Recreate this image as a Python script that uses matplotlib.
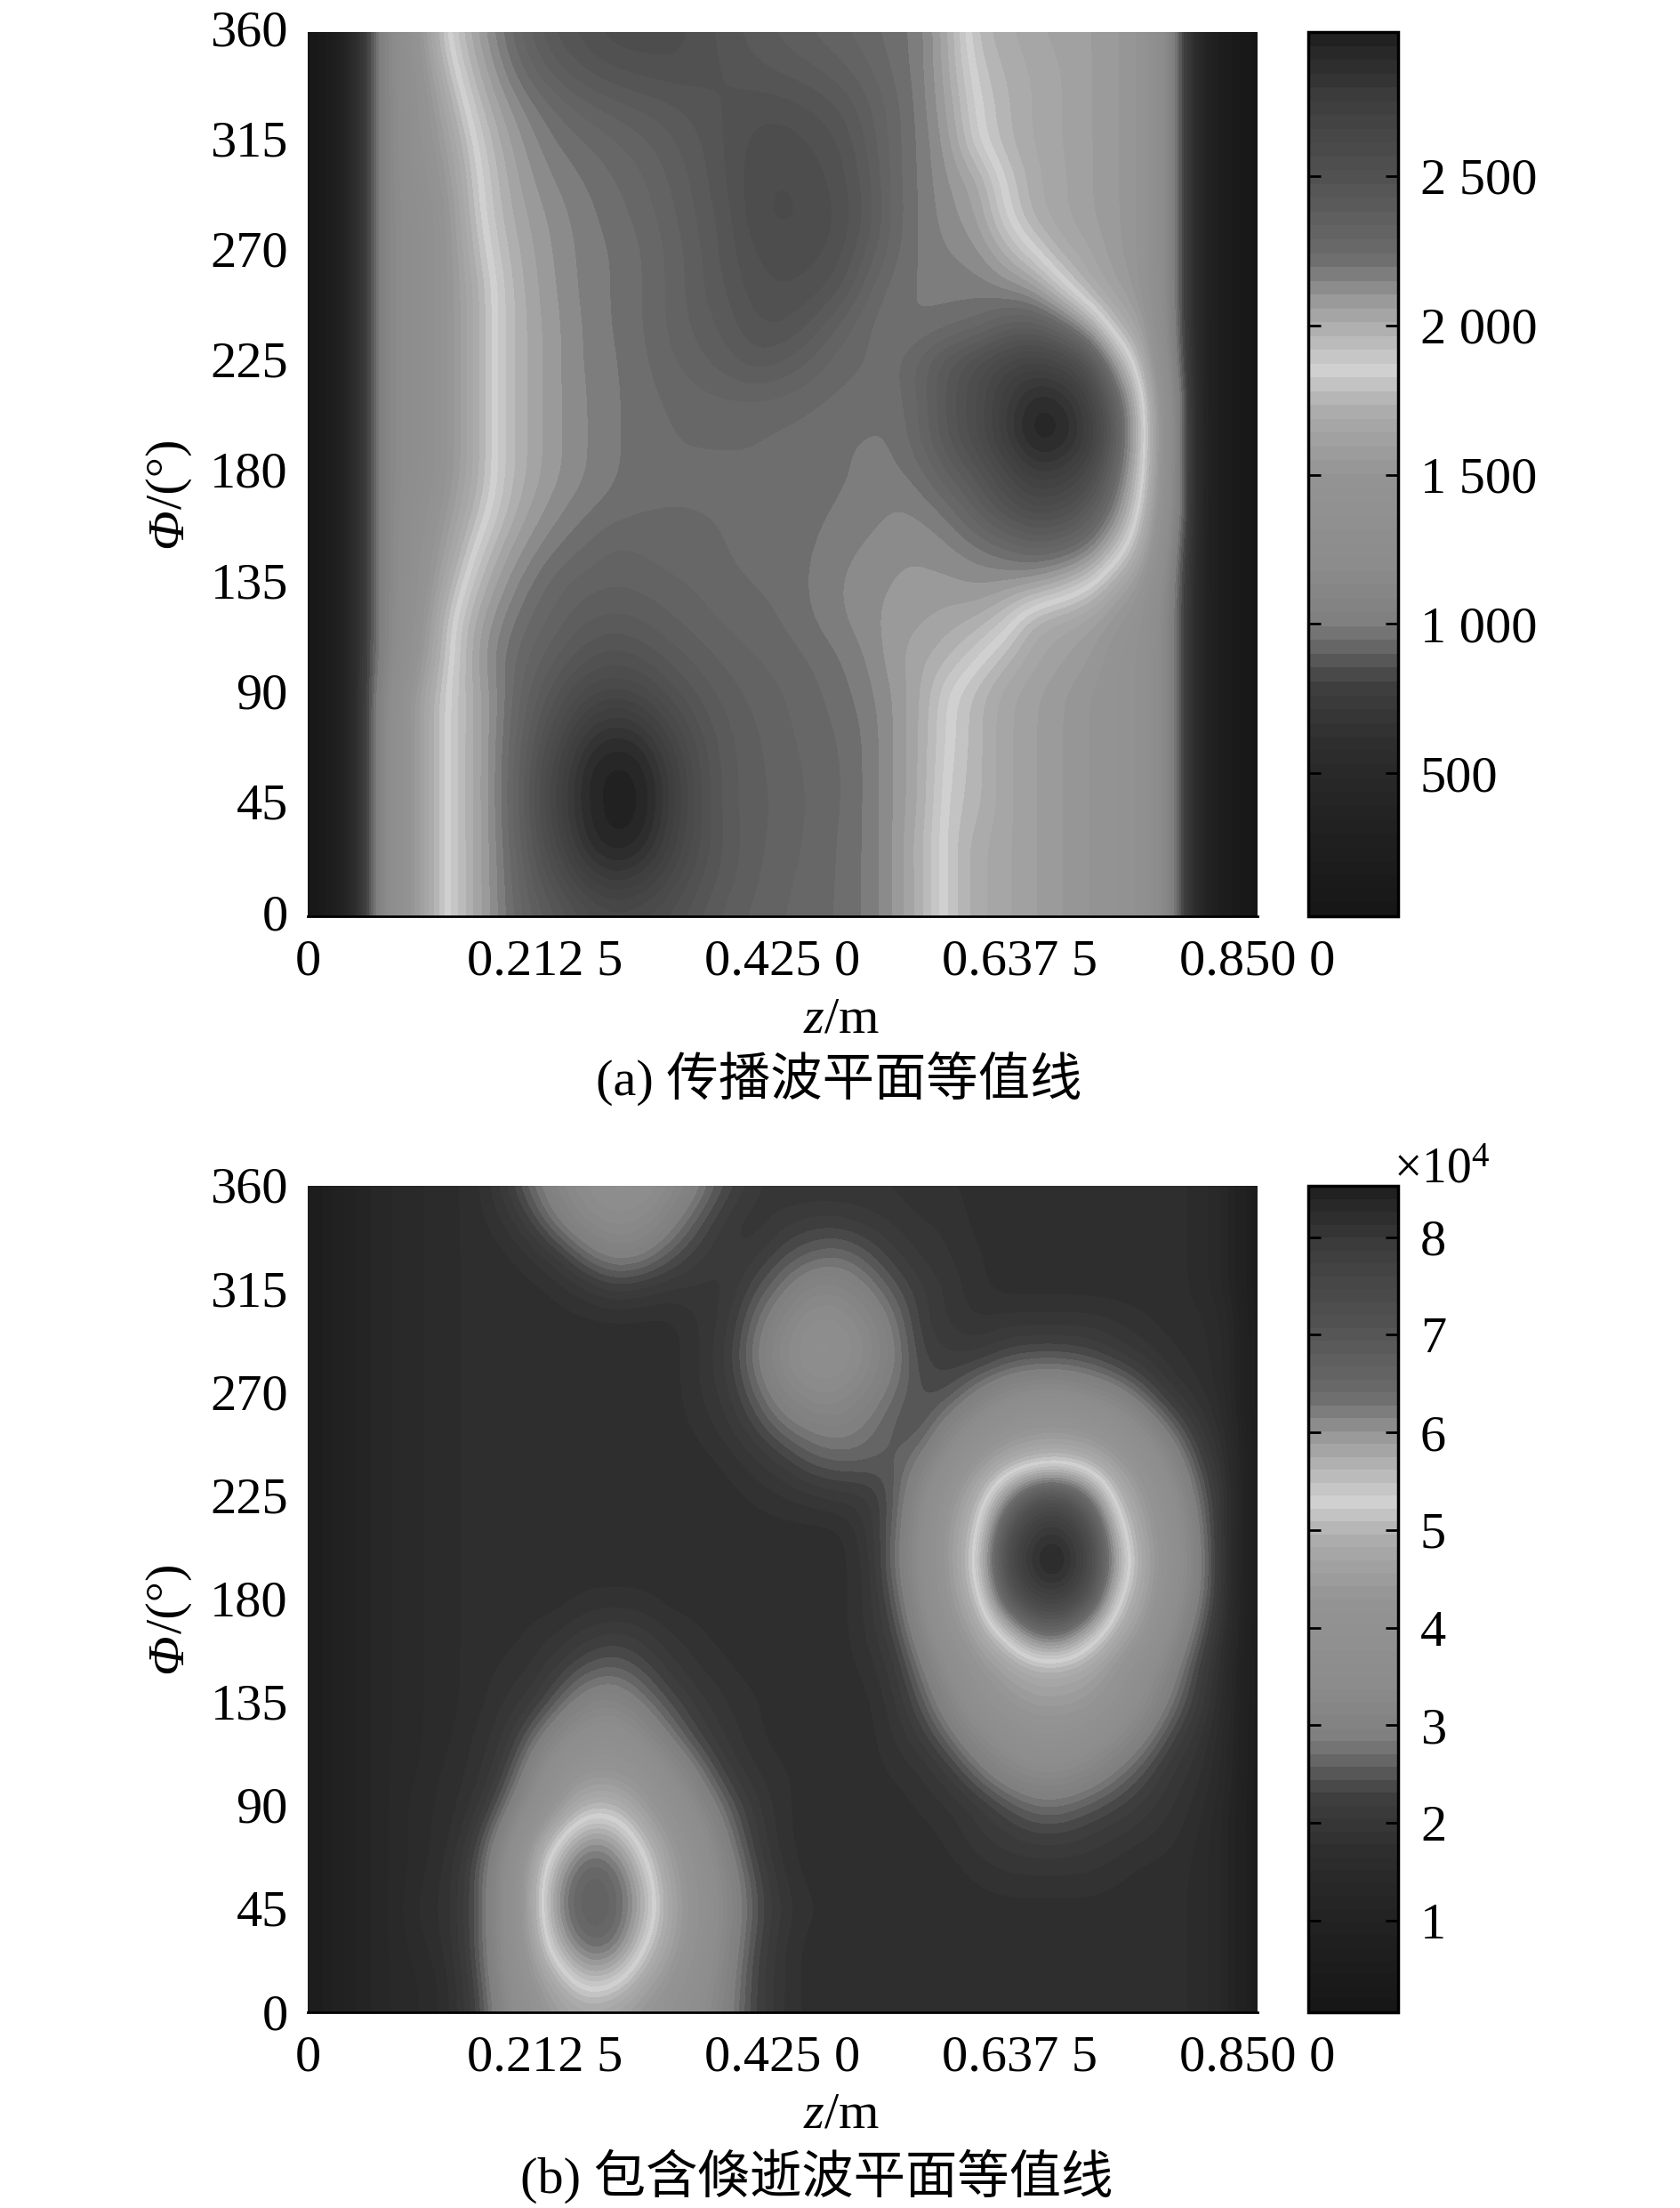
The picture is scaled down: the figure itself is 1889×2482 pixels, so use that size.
import numpy as np
import matplotlib
matplotlib.use("Agg")
import matplotlib.pyplot as plt
from matplotlib.colors import LinearSegmentedColormap
from matplotlib.transforms import ScaledTranslation

W, H = 1890, 2482
plt.rcParams['font.family'] = ['Liberation Serif', 'Noto Sans CJK SC', 'DejaVu Sans']
plt.rcParams['mathtext.fontset'] = 'custom'
plt.rcParams['mathtext.rm'] = 'Liberation Serif'
plt.rcParams['mathtext.it'] = 'Liberation Serif:italic'
plt.rcParams['axes.unicode_minus'] = False

z_ticks = [0, 0.2125, 0.425, 0.6375, 0.85]
z_labels = ['0', '0.212 5', '0.425 0', '0.637 5', '0.850 0']
phi_ticks = [0, 45, 90, 135, 180, 225, 270, 315, 360]
phi_labels = ['0', '45', '90', '135', '180', '225', '270', '315', '360']

# grey level of the colour bar, from bottom (0) to top (1)
bar_pos = [0, 0.12, 0.19, 0.26, 0.296, 0.33, 0.4, 0.5, 0.577, 0.62, 0.67, 0.70, 0.75, 0.84, 0.93, 1]
bar_grey = [0.09, 0.14, 0.18, 0.25, 0.38, 0.5, 0.55, 0.58, 0.68, 0.82, 0.68, 0.6, 0.42, 0.32, 0.24, 0.13]

# field (a), hundreds, one row per 15 deg from 0 to 360, one column per 0.025 m
field_a = [
    [0.3,2,7.5,13,16,18.6,20.2,21.8,23.3,24.3,25.3,25.8,25.6,25,24.3,23.6,23.2,22.9,22.6,22.4,21.9,21,19.8,18,17,16.5,16,15.5,15,14.5,14,10.5,4,1.5,0.3],
    [0.3,2,7.5,13,16,18.6,20.2,21.8,23.8,25.3,27,27.8,27.2,26,24.8,24,23.4,23,22.7,22.4,21.9,21,19.8,18,17,16.5,16,15.5,15,14.5,14,10.5,4,1.5,0.3],
    [0.3,2,7.5,13,16,18.6,20.2,21.9,24.2,26.5,28.7,29.5,29,27,25.2,24.1,23.5,23.1,22.8,22.4,21.9,21,19.7,18,17,16.5,16,15.5,15,14.5,14,10.5,4,1.5,0.3],
    [0.3,2,7.5,13,16,18.6,20.2,22,24.5,27,29,29.8,29.5,27.5,25.2,24,23.5,23.2,22.8,22.5,21.9,21,20,18,17.5,16.5,16,15.5,15,14.5,14,10.5,4,1.5,0.3],
    [0.3,2,7.5,13,16,18.6,20.2,22,24.4,26.8,29,29.7,29.3,27.3,25.2,24,23.5,23.1,22.8,22.5,21.9,21,20,18.2,17.5,16.5,16,15.5,15,14.5,14,10.5,4,1.5,0.3],
    [0.3,2,7.5,13,16,18.6,20.2,21.9,24,25.8,27.8,28.5,28,26.3,24.8,23.9,23.4,23,22.7,22.4,21.9,21,20,18.4,17.5,16.5,16,15.5,15,14.5,14,10.5,4,1.5,0.3],
    [0.3,2,7.5,13,16,18.6,20.2,21.8,23.5,24.8,26,26.5,26,25,24.2,23.6,23.2,22.9,22.6,22.2,21.7,21,20.1,18.4,17.5,16.5,16,15.5,15,14.5,14,10.5,4,1.5,0.3],
    [0.3,2,7.5,12,15,18.2,20.5,22,23,23.9,24.7,25,24.7,24.1,23.6,23.2,22.9,22.7,22.4,22,21.5,20.7,20.2,19.7,18.6,17.5,16.5,16,15.5,14.5,14,10.5,4,1.5,0.3],
    [0.3,2,7.5,12,14.5,18,20.3,21.6,22.5,23.2,23.8,24,23.8,23.4,23.1,22.8,22.6,22.4,22,21.6,21.2,20.8,20.6,20.3,20,19,17,16.5,16,15,14,10.5,4,1.5,0.3],
    [0.3,2,7.5,12,14,17,19.5,21,22,22.8,23.2,23.3,23.2,23,22.8,22.5,22.4,22.3,21.9,21.5,21.2,21,20.9,20.9,21.1,20.9,20.6,19.8,18.6,16.5,15,10.5,4,1.5,0.3],
    [0.3,2,7.5,12,14,16,18.6,20.3,21.3,22,22.5,23,22.8,22.6,22.5,22.4,22.3,22.2,22,21.7,21.4,21.1,21.1,21.4,21.8,22.4,23,22.8,21.9,19.3,16.5,11,4,1.5,0.3],
    [0.3,2,7.5,12,13.5,15.5,17.5,19.5,20.7,21.4,21.9,22.2,22.4,22.4,22.4,22.4,22.4,22.2,22.1,21.9,21.8,21.4,21.6,22.1,23.5,24.7,25.6,25.3,24,21.5,17.5,12,4,1.5,0.3],
    [0.3,2,7.5,12,13,15,17,19.2,20.3,21,21.5,21.9,22.2,22.4,22.4,22.4,22.4,22.3,22.2,22,21.9,21.8,22.2,23.5,24.5,26,27.5,27.3,26,22.5,18.4,12,4,1.5,0.3],
    [0.3,2,7.5,12,13,15,17,19.2,20.3,21,21.5,21.9,22.2,22.4,22.4,22.4,22.4,22.3,22.2,22,21.9,21.9,23,24.5,25.7,27.7,29.5,29.2,27.7,23.5,18.6,12,4,1.5,0.3],
    [0.3,2,7.5,12,13,15,17,19.2,20.3,21,21.5,21.9,22.2,22.5,22.7,22.8,22.8,22.7,22.5,22.3,22.2,22.1,23,24.5,25.7,27.5,29,28.8,27,23,18.4,12,4,1.5,0.3],
    [0.3,2,7.5,12,13,15,17,19.2,20.3,21,21.6,21.9,22.3,22.8,23.2,23.6,24.1,23.8,23.2,22.6,22.4,22.2,23.2,24.5,25.5,26.5,27,26.5,25,20.5,17,11,4,1.5,0.3],
    [0.3,2,7.5,12,13,15,17,19.2,20.3,21,21.6,22,22.4,23,23.5,24,24.7,24.8,24.2,23.2,22.4,22,21.9,22.2,22.5,23.5,23.8,22.8,20.5,17.2,16,10.5,4,1.5,0.3],
    [0.3,2,7.5,12,13,15,17,19.2,20.4,21.1,21.7,22,22.4,23,23.7,24.3,25,25.2,25,24.5,23,22.1,21.9,21.8,21.8,21.5,21,19,17,16,15,10.5,4,1.5,0.3],
    [0.3,2,7.5,12,13,15,17.5,19.5,20.5,21.2,21.7,22,22.4,23,23.7,24.5,25.2,25.5,25.4,25,23.8,22.5,21.8,21.5,21.2,20,18.6,17,16.5,15.5,15,10.5,4,1.5,0.3],
    [0.3,2,7.5,12,13,15,18,19.8,20.7,21.3,21.8,22.2,22.6,23.2,23.9,24.5,25.6,25.8,25.6,25.2,24.2,22.7,21.8,21.2,20.6,18.6,17,16.5,16,15.5,15,10.5,4,1.5,0.3],
    [0.3,2,7.5,12,13.5,15.5,18.2,20,21,21.6,22,22.4,22.8,23.4,24,24.8,25.5,25.7,25.5,25,24.1,22.6,21.8,21,20.3,18.2,17,16.5,16,15.5,15,10.5,4,1.5,0.3],
    [0.3,2,7.5,12,14,16,18.6,20.3,21.3,22,22.4,22.8,23.2,23.7,24.2,24.8,25.4,25.5,25.2,24.8,23.8,22.6,21.8,20.7,18.6,17.4,16.8,16.4,16,15.5,15,10.5,4,1.5,0.3],
    [0.3,2,7.5,12,14,16.8,19.3,20.8,21.8,22.6,23.2,23.6,23.9,24.2,24.5,24.8,25,25,24.7,24.3,23.5,22.6,21.7,20.4,18.4,17.4,16.8,16.4,16,15.5,15,10.5,4,1.5,0.3],
    [0.3,2,7.5,12,14.5,17.8,20,21.5,22.8,23.8,24.4,24.8,25,25.1,25,24.7,24.4,24.1,23.9,23.5,23,22.3,21.7,20.1,18,17.2,16.8,16.4,16,15.5,15,10.5,4,1.5,0.3],
    [0.3,2,7.5,12,15,18.6,20.5,22,23.5,24.5,25,25.5,25.5,25.5,25,24.5,24,23.7,23.3,23,22.6,22.2,21.7,20,17.5,17,16.5,16.2,16,15.5,15,10.5,4,1.5,0.3],
]

# field (b), thousands, same grid
field_b = [
    [5,9,12,14,15,17,22,32,40,45,47,46,43,40,36,30,23,19,17,17,17,17,17,17,17,17,17,17,17,17,17,17,16,13,5],
    [5,9,12,14,15,17,23,34,43,50,57,55,48,43,38,31,23,19,17,17,17,17,17,17,17,17,17,17,17,17,17,17,16,13,5],
    [5,9,12,14,16,18,24,35,46,58,65,64,54,46,40,32,24,19,17,17,17,17,17,17,17,17,17,17,17,17,17,17,16,13,5],
    [5,9,12,14,17,18,24,35,47,62,68,66,58,47,41,33,25,20,18,17,17,17,17,17,17,17,17,17,17,17,17,17,16,13,5],
    [5,9,12,14,16,18,24,35,47,60,67,65,56,46,40,32,24,19,17,17,17,17,17,17,18,19,19,19,19,18,17,17,16,13,5],
    [5,9,12,14,16,17,22,32,44,53,61,59,51,44,38,29,22,18,17,17,17,17,17,18,20,21,22,22,21,20,19,18,16,13,5],
    [5,9,12,14,16,17,19,26,36,44,50,50,45,40,33,26,21,18,17,17,17,17,18,19,21,24,27,27,25,23,21,19,17,13,5],
    [5,9,12,14,15,17,18,22,31,40,43,43,41,35,28,22,19,18,17,17,17,18,19,22,27,32,34,34,32,28,24,20,18,14,5],
    [5,9,12,14,15,16,18,20,26,33,37,38,34,28,23,20,18,17,17,17,17,19,22,27,33,37,40,40,38,34,29,23,19,14,5],
    [5,9,12,14,15,16,17,19,21,26,31,32,28,24,21,19,18,17,17,17,17,20,25,32,39,43,45,45,44,40,34,27,21,15,5],
    [5,9,12,14,15,16,17,18,19,22,25,26,24,21,19,18,17,17,17,17,18,21,28,36,43,46,49,49,47,43,37,30,22,15,5],
    [5,9,12,14,15,16,17,17,18,19,21,22,21,19,18,17,17,17,17,17,19,23,32,41,47,54,64,65,56,48,43,34,25,16,5],
    [5,9,12,14,15,16,17,17,17,17,18,18,18,17,17,17,17,17,17,17,19,25,35,44,51,68,77,78,71,53,46,37,28,17,5],
    [5,9,12,14,15,16,17,17,17,17,17,17,17,17,17,17,17,17,17,17,19,27,36,45,54,74,83,85,76,58,47,39,29,17,5],
    [5,9,12,14,15,16,17,17,17,17,17,17,17,17,17,17,17,17,17,17,20,26,36,45,52,71,80,81,74,55,46,38,28,17,5],
    [5,9,12,14,15,16,17,17,17,17,17,17,17,17,17,17,18,19,20,21,21,25,34,43,49,60,71,72,63,50,44,36,26,18,5],
    [5,9,12,14,15,16,17,17,17,17,17,17,17,17,17,18,20,22,25,26,26,25,29,38,44,48,50,51,49,45,40,32,23,17,5],
    [5,9,12,14,15,16,17,17,17,17,17,17,17,17,18,20,23,27,29,30,28,25,24,31,37,41,43,43,42,39,33,26,20,16,5],
    [5,9,12,14,15,16,17,17,17,17,17,17,17,17,19,21,26,31,34,34,31,27,24,24,29,33,35,35,33,30,25,20,18,15,5],
    [5,9,12,14,15,16,17,17,17,17,17,17,17,17,19,22,28,34,37,37,34,29,23,22,22,24,25,25,24,22,20,18,17,15,5],
    [5,9,12,14,15,16,17,17,17,17,17,17,17,17,19,21,27,32,36,36,33,28,22,20,19,20,20,20,20,19,18,17,17,15,5],
    [5,9,12,14,15,16,17,17,17,18,20,22,21,20,20,20,24,28,32,32,29,25,22,20,18,17,17,17,17,17,17,17,16,13,5],
    [5,9,12,14,15,16,17,17,19,22,27,30,29,25,22,20,21,24,26,27,25,22,20,19,18,17,17,17,17,17,17,17,16,13,5],
    [5,9,12,14,15,16,17,19,23,29,33,35,34,30,25,21,19,21,22,22,21,20,19,19,17,17,17,17,17,17,17,17,16,13,5],
    [5,9,12,14,15,16,17,21,27,32,36,37,37,34,29,24,21,19,19,19,19,19,18,18,17,17,17,17,17,17,17,17,16,13,5],
]

a_bar_ticks = [500, 1000, 1500, 2000, 2500]
a_bar_labels = ['500', '1 000', '1 500', '2 000', '2 500']
b_bar_ticks = [10000, 20000, 30000, 40000, 50000, 60000, 70000, 80000]
b_bar_labels = ['1', '2', '3', '4', '5', '6', '7', '8']

cmap = LinearSegmentedColormap.from_list(
    'bar', [(p, (g, g, g)) for p, g in zip(bar_pos, bar_grey)], N=64)

FS = 42


def rect(left, right, top, bottom):
    return [left / W, 1 - bottom / H, (right - left) / W, (bottom - top) / H]


def panel(field, scale, vmin, vmax, top, bottom, caption, cap_x, cap_y, xlab_y, label_up,
          bar_ticks, bar_labels):
    ax = fig.add_axes(rect(346, 1414, top, bottom))
    data = np.array(field) * scale
    dz = 0.85 / (data.shape[1] - 1)
    dp = 360 / (data.shape[0] - 1)
    im = ax.imshow(data, origin='lower', aspect='auto', cmap=cmap, vmin=vmin, vmax=vmax,
                   extent=[-dz / 2, 0.85 + dz / 2, -dp / 2, 360 + dp / 2],
                   interpolation='bicubic', interpolation_stage='data')
    ax.set_xlim(0, 0.85)
    ax.set_ylim(0, 360)
    ax.set_xticks(z_ticks, z_labels)
    ax.set_yticks(phi_ticks, phi_labels)
    ax.tick_params(length=0, labelsize=FS)
    ax.tick_params(axis='x', pad=18)
    ax.tick_params(axis='y', pad=16)
    offset = ScaledTranslation(0, label_up / 100, fig.dpi_scale_trans)
    for label in ax.get_yticklabels():
        label.set_transform(label.get_transform() + offset)
    for side in ['top', 'left', 'right']:
        ax.spines[side].set_visible(False)
    ax.spines['bottom'].set_linewidth(2)
    # italic capital phi has to be its own text, mathtext keeps it upright
    split = (top + bottom) / 2 + 39
    fig.text(190 / W, 1 - split / H, 'Φ', rotation=90, style='italic',
             fontsize=FS, ha='center', va='top')
    fig.text(190 / W, 1 - split / H, '/(°)', rotation=90,
             fontsize=FS, ha='center', va='bottom')
    fig.text(946 / W, 1 - xlab_y / H, r'$\mathit{z}$/m', fontsize=FS, ha='center', va='center')
    fig.text(cap_x / W, 1 - cap_y / H, caption, fontsize=FS, ha='center', va='center')

    cax = fig.add_axes(rect(1471, 1572, top, bottom))
    cb = fig.colorbar(im, cax=cax)
    cb.set_ticks(bar_ticks, labels=bar_labels)
    cax.minorticks_off()
    cax.tick_params(direction='in', left=True, right=True, length=10, width=2,
                    labelsize=FS, pad=18)
    cb.outline.set_linewidth(2.5)
    return cax


fig = plt.figure(figsize=(W / 100, H / 100), dpi=100, facecolor='white')
panel(field_a, 100, 21, 2982, 36, 1030, '(a) 传播波平面等值线', 943, 1212, 1146, 5,
      a_bar_ticks, a_bar_labels)
panel(field_b, 1000, 570, 85270, 1333, 2262, '(b) 包含倏逝波平面等值线', 918, 2446, 2377, 1,
      b_bar_ticks, b_bar_labels)
fig.text(1621 / W, 1 - 1315 / H, '×10$^{4}$', fontsize=FS - 2, ha='center', va='center')

fig.savefig('out.png', dpi=100)
